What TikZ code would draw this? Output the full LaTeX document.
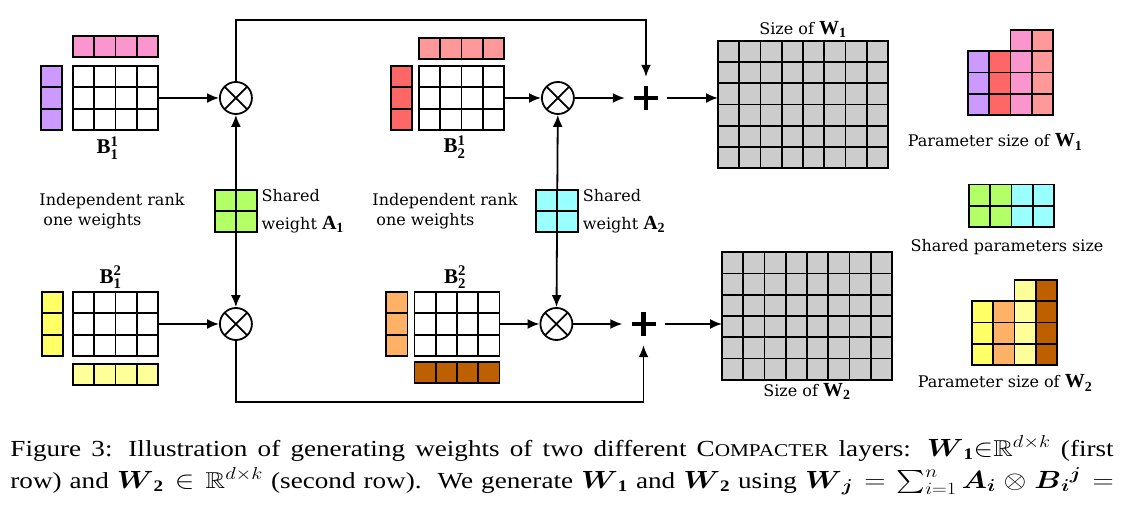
\documentclass[tikz,border=0pt]{standalone}
\usepackage{amsmath}
\usepackage{amssymb}
\usepackage{fontspec}
\setmainfont{Liberation Serif}
\newfontfamily\figfont{DejaVu Serif}
\usepackage{tikz}
\usetikzlibrary{arrows.meta, positioning, calc}
\usepackage{xcolor}
\definecolor{rankPink}{RGB}{250, 150, 205}
\definecolor{rankPurple}{RGB}{204, 153, 255}
\definecolor{rankSalmon}{RGB}{255, 153, 153}
\definecolor{rankRed}{RGB}{255, 102, 102}
\definecolor{rankYellow}{RGB}{255, 255, 102}
\definecolor{rankLightYellow}{RGB}{255, 255, 153}
\definecolor{rankOrange}{RGB}{255, 178, 102}
\definecolor{rankBrown}{RGB}{190, 95, 0}
\definecolor{sharedGreen}{RGB}{178, 255, 102}
\definecolor{sharedCyan}{RGB}{153, 255, 255}
\definecolor{fullGray}{RGB}{204, 204, 204}
\newcommand{\boldmat}[2]{{\fontsize{20}{20}\selectfont$\mathbf{#1}_{\mathbf{#2}}$}}

\begin{document}
\begin{tikzpicture}[
        x=1pt, y=1pt,
        font=\figfont\fontsize{16}{20}\selectfont,
        gridbox/.style={draw, line width=1.8pt, inner sep=0pt, outer sep=0pt},
        weightmat/.style={gridbox, fill=white, minimum width=85pt, minimum height=63.75pt},
        rowvec/.style={gridbox, minimum width=85pt, minimum height=21.25pt},
        colvec/.style={gridbox, minimum width=21.25pt, minimum height=63.75pt},
        tallvec/.style={gridbox, minimum width=21.25pt, minimum height=85pt},
        sharedbox/.style={gridbox, minimum size=42.5pt},
        fullmat/.style={gridbox, fill=fullGray, minimum width=170pt, minimum height=127.5pt},
        kronop/.style={circle, draw, line width=1.8pt, minimum size=32pt, inner sep=0pt,
            path picture={\draw[line width=1.8pt] (path picture bounding box.north west) -- (path picture bounding box.south east) (path picture bounding box.north east) -- (path picture bounding box.south west);}},
        plussign/.style={minimum size=42pt, inner sep=0pt,
            path picture={\draw[line width=4.5pt] ([xshift=-12pt]path picture bounding box.center) -- ([xshift=12pt]path picture bounding box.center) ([yshift=-12pt]path picture bounding box.center) -- ([yshift=12pt]path picture bounding box.center);}},
        mlabel/.style={font=\fontsize{21}{22}\selectfont},
        arrow/.style={-{Latex[length=12pt, width=10pt]}, line width=1.8pt}
    ]
        \useasboundingbox (0,0) rectangle (1129,510);

        % Layer 1, first row
        \node[weightmat] (b11) at (115.5,412) {};
        \node[rowvec, fill=rankPink, above=9pt of b11] (u11) {};
        \node[colvec, fill=rankPurple, left=11pt of b11] (v11) {};
        \node[mlabel, below=3pt of b11, xshift=-8pt] (lb11) {$\mathbf{B}^{\mathbf{1}}_{\mathbf{1}}$};
        \node[kronop, right=61pt of b11] (o11) {};

        \node[weightmat] (b21) at (461.5,412) {};
        \node[rowvec, fill=rankSalmon, above=7pt of b21] (u21) {};
        \node[colvec, fill=rankRed, left=7pt of b21] (v21) {};
        \node[mlabel, below=2pt of b21, xshift=-7pt] (lb21) {$\mathbf{B}^{\mathbf{1}}_{\mathbf{2}}$};
        \node[kronop, right=37pt of b21] (o21) {};
        \node[plussign, right=50pt of o21] (p1) {};

        \node[fullmat] (w1) at (803,405.5) {};
        \node[above=0pt of w1] (lw1) {Size of \boldmat{W}{1}};

        % Layer 2, second row
        \node[weightmat] (b12) at (115.5,186) {};
        \node[colvec, fill=rankYellow, left=10pt of b12] (v12) {};
        \node[rowvec, fill=rankLightYellow, below=8pt of b12] (u12) {};
        \node[mlabel, above=0pt of b12, xshift=-5pt] (lb12) {$\mathbf{B}^{\mathbf{2}}_{\mathbf{1}}$};
        \node[kronop, right=61pt of b12] (o12) {};

        \node[weightmat] (b22) at (457,186) {};
        \node[colvec, fill=rankOrange, left=7pt of b22] (v22) {};
        \node[rowvec, fill=rankBrown, below=6pt of b22] (u22) {};
        \node[mlabel, above=0pt of b22, xshift=-2pt] (lb22) {$\mathbf{B}^{\mathbf{2}}_{\mathbf{2}}$};
        \node[kronop, right=40pt of b22] (o22) {};
        \node[plussign, right=49pt of o22] (p2) {};

        \node[fullmat] (w2) at (807,194) {};
        \node[below=0pt of w2] (lw2) {Size of \boldmat{W}{2}};

        % Shared weights
        \node[sharedbox, fill=sharedGreen] (a1) at ($(o11)!0.5!(o12)$) {};
        \node[sharedbox, fill=sharedCyan] (a2) at ($(o21)!0.5!(o22)$) {};
        \node[right=1pt of a1, align=left] (la1) {Shared\\[8pt]weight \boldmat{A}{1}};
        \node[right=1pt of a2, align=left] (la2) {Shared\\[8pt]weight \boldmat{A}{2}};
        \node[align=left] (ind1) at (112,299) {Independent rank\\\hspace*{4pt}one weights};
        \node[align=left] (ind2) at (445,299) {Independent rank\\\hspace*{4pt}one weights};

        % Parameter sizes
        \node[colvec, fill=rankPurple, anchor=south west] (pw1a) at (968,395) {};
        \node[colvec, fill=rankRed, anchor=south west] (pw1b) at (pw1a.south east) {};
        \node[tallvec, fill=rankPink, anchor=south west] (pw1c) at (pw1b.south east) {};
        \node[tallvec, fill=rankSalmon, anchor=south west] (pw1d) at (pw1c.south east) {};
        \node (lpw1) at (995,368) {Parameter size of \boldmat{W}{1}};

        \node[sharedbox, fill=sharedGreen, anchor=south west] (sg) at (969,283) {};
        \node[sharedbox, fill=sharedCyan, anchor=south west] (sc) at (sg.south east) {};
        \node (lsh) at (1007,263) {Shared parameters size};

        \node[colvec, fill=rankYellow, anchor=south west] (pw2a) at (972,145) {};
        \node[colvec, fill=rankOrange, anchor=south west] (pw2b) at (pw2a.south east) {};
        \node[tallvec, fill=rankLightYellow, anchor=south west] (pw2c) at (pw2b.south east) {};
        \node[tallvec, fill=rankBrown, anchor=south west] (pw2d) at (pw2c.south east) {};
        \node (lpw2) at (1005,127) {Parameter size of \boldmat{W}{2}};

        % Cell lines
        \foreach \n/\w/\h in {b11/85/63.75, u11/85/21.25, v11/21.25/63.75, b21/85/63.75, u21/85/21.25, v21/21.25/63.75,
                b12/85/63.75, u12/85/21.25, v12/21.25/63.75, b22/85/63.75, u22/85/21.25, v22/21.25/63.75,
                w1/170/127.5, w2/170/127.5, a1/42.5/42.5, a2/42.5/42.5, sg/42.5/42.5, sc/42.5/42.5,
                pw1a/21.25/63.75, pw1b/21.25/63.75, pw1c/21.25/85, pw1d/21.25/85,
                pw2a/21.25/63.75, pw2b/21.25/63.75, pw2c/21.25/85, pw2d/21.25/85}
            \draw[line width=1.8pt, step=21.25pt, shift={(\n.south west)}] (0,0) grid (\w,\h);

        \draw[arrow] (b11) -- (o11);
        \draw[arrow] (b21) -- (o21);
        \draw[arrow] (o21) -- (p1);
        \draw[arrow] (o11.north) -- ++(0,61) -| (p1.north);
        \draw[arrow] (p1) -- (p1 -| w1.west);
        \draw[arrow] (b12) -- (o12);
        \draw[arrow] (b22) -- (o22);
        \draw[arrow] (o22) -- (p2);
        \draw[arrow] (o12.south) -- ++(0,-61) -| (p2.south);
        \draw[arrow] (p2) -- (p2 -| w2.west);
        \draw[arrow] (a1) -- (o11);
        \draw[arrow] (a1) -- (o12);
        \draw[arrow] (a2) -- (o21);
        \draw[arrow] (a2) -- (o22);

        % Caption
        \node[anchor=north west, xscale=1.18, transform shape, text width=935pt, align=justify, inner sep=0pt, font=\fontsize{23}{32}\selectfont] (cap) at (10.2,75) {\parfillskip=0pt
            Figure 3: Illustration of generating weights of two different C{\fontsize{18}{32}\selectfont OMPACTER} layers: $\boldsymbol{W}_{\mathbf{1}}{\in}\mathbb{R}^{d\times k}$ (first\linebreak
            row) and $\boldsymbol{W}_{\mathbf{2}}\in\mathbb{R}^{d\times k}$ (second row).\ \ We generate $\boldsymbol{W}_{\mathbf{1}}$ and $\boldsymbol{W}_{\mathbf{2}}$ using $\boldsymbol{W}_{\boldsymbol{j}}=\sum_{i=1}^{n}\boldsymbol{A}_{\boldsymbol{i}}\otimes\boldsymbol{B}_{\boldsymbol{i}}{}^{\boldsymbol{j}}=$\par};
    \end{tikzpicture}
\end{document}
